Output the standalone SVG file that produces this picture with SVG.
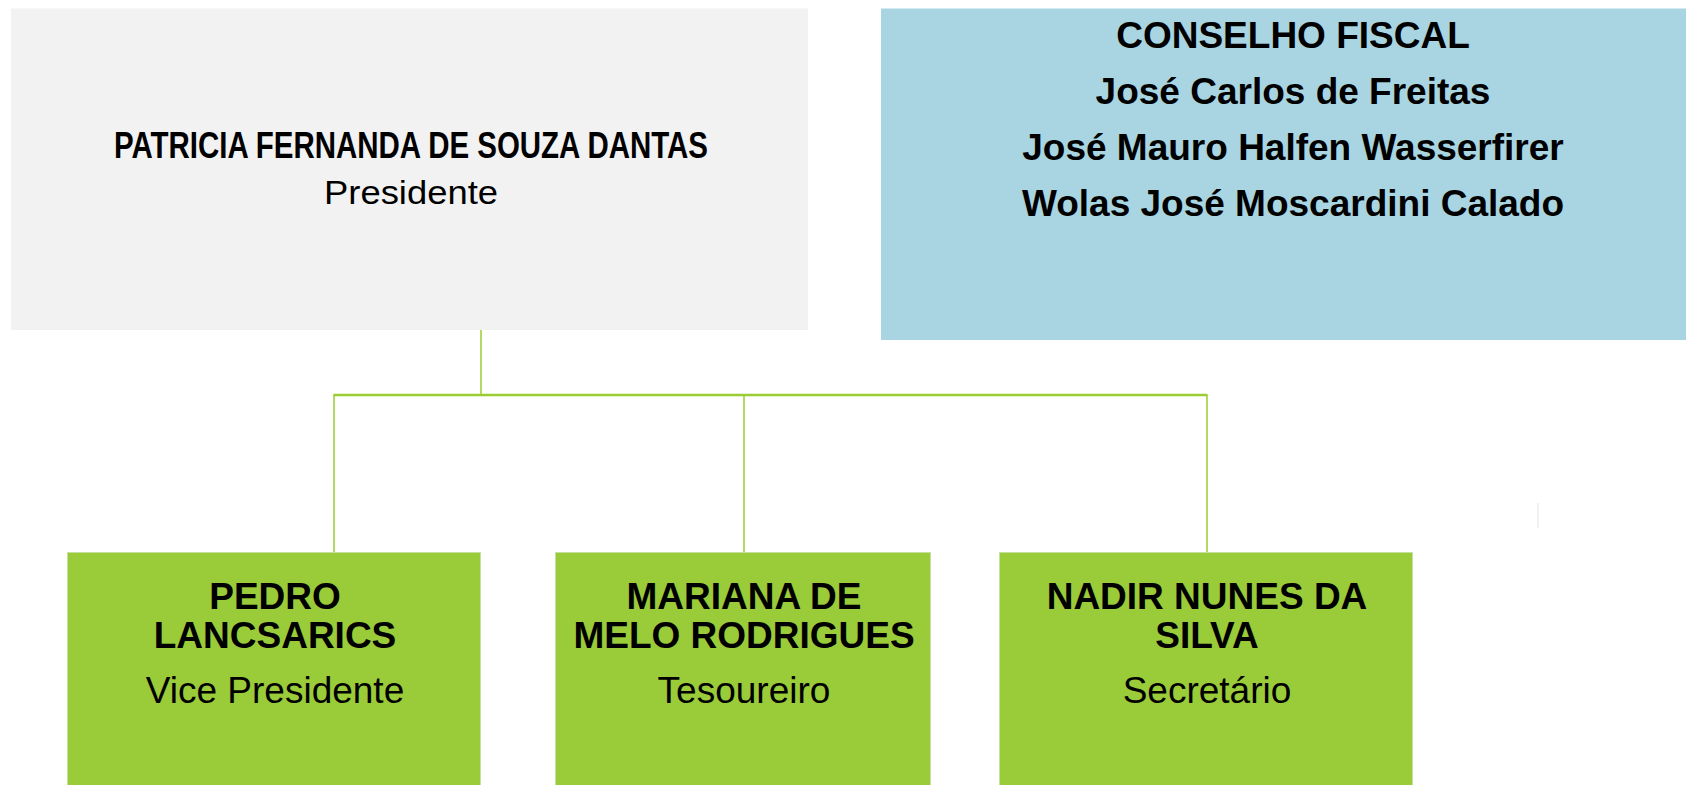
<svg xmlns="http://www.w3.org/2000/svg" width="1686" height="785" viewBox="0 0 1686 785">
<style>
.b{font-family:"Liberation Sans",Arial,sans-serif;font-weight:bold;font-size:37px;fill:#000;text-anchor:middle}
.r{font-family:"Liberation Sans",Arial,sans-serif;font-size:37px;fill:#000;text-anchor:middle}
.conn{stroke:#9ACD32;fill:none}
.green{fill:#9ACB38;stroke:#C6E19E;stroke-width:1}
</style>
<rect width="1686" height="785" fill="#fff"/>
<g id="president">
<rect x="11" y="8.5" width="797" height="321.5" fill="#F2F2F2"/>
<text x="411" y="158" class="b" style="font-size:36px" textLength="594" lengthAdjust="spacingAndGlyphs">PATRICIA FERNANDA DE SOUZA DANTAS</text>
<text x="411" y="204" class="r" style="font-size:34px" textLength="174" lengthAdjust="spacingAndGlyphs">Presidente</text>
</g>
<g id="conselho">
<rect x="881" y="8.5" width="805" height="331.5" fill="#A8D5E1"/>
<text x="1293" y="48" class="b">CONSELHO FISCAL</text>
<text x="1293" y="104" class="b">José Carlos de Freitas</text>
<text x="1293" y="160" class="b">José Mauro Halfen Wasserfirer</text>
<text x="1293" y="216" class="b">Wolas José Moscardini Calado</text>
</g>
<g id="connectors">
<line class="conn" x1="481" y1="330" x2="481" y2="395" stroke-width="1.5"/>
<line class="conn" x1="333.5" y1="395" x2="1207.5" y2="395" stroke-width="2.5"/>
<line class="conn" x1="334" y1="395" x2="334" y2="552" stroke-width="1.5"/>
<line class="conn" x1="744" y1="395" x2="744" y2="552" stroke-width="1.5"/>
<line class="conn" x1="1207" y1="395" x2="1207" y2="552" stroke-width="1.5"/>
</g>
<line x1="1538" y1="503" x2="1538" y2="528" stroke="#E3E3E3" stroke-width="1"/>
<g id="vice">
<rect class="green" x="67.5" y="552.5" width="413" height="240"/>
<text x="275" y="609" class="b">PEDRO</text>
<text x="275" y="648" class="b">LANCSARICS</text>
<text x="275" y="703" class="r">Vice Presidente</text>
</g>
<g id="tesoureiro">
<rect class="green" x="555.5" y="552.5" width="375" height="240"/>
<text x="744" y="609" class="b">MARIANA DE</text>
<text x="744" y="648" class="b">MELO RODRIGUES</text>
<text x="744" y="703" class="r">Tesoureiro</text>
</g>
<g id="secretario">
<rect class="green" x="999.5" y="552.5" width="413" height="240"/>
<text x="1207" y="609" class="b">NADIR NUNES DA</text>
<text x="1207" y="648" class="b">SILVA</text>
<text x="1207" y="703" class="r">Secretário</text>
</g>
</svg>
